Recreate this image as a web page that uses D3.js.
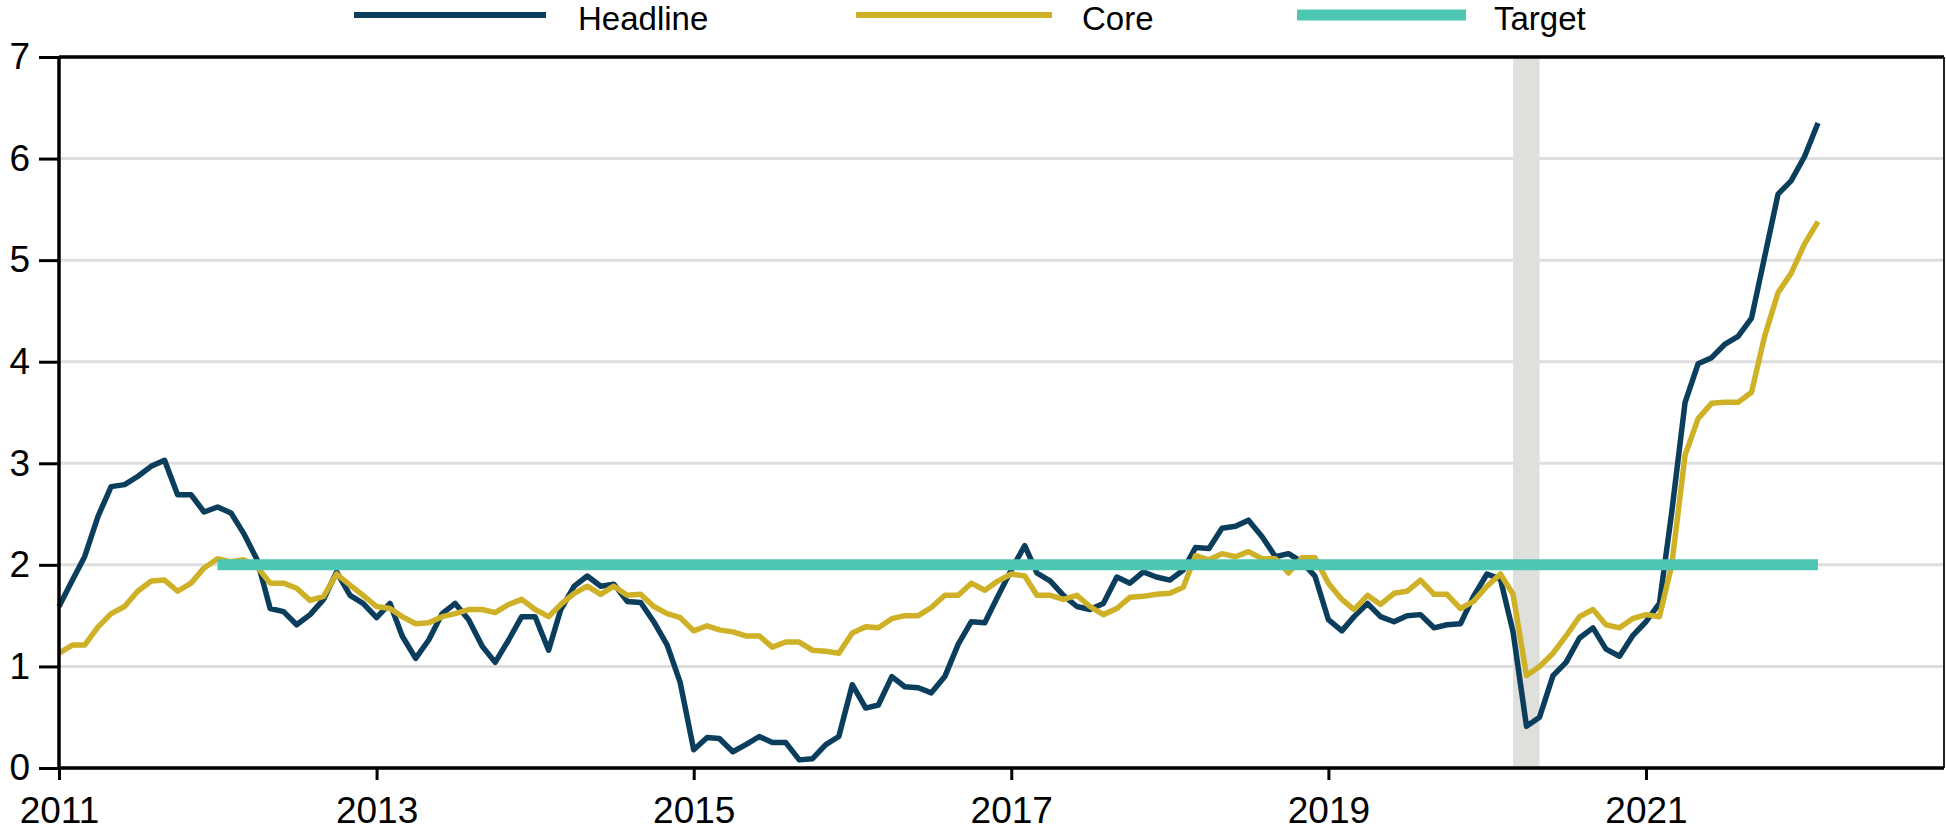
<!DOCTYPE html>
<html lang="en">
<head>
    <meta charset="UTF-8">
    <title>Inflation</title>
    <script type="text/javascript" src="https://cdn.jsdelivr.net/npm/d3@7"></script>
    <style>
        body { margin: 0; background: #fff; }
        svg text { font-family: "Liberation Sans", Arial, sans-serif; fill: #000; }
    </style>
</head>
<body>
<svg id="chart" width="1946" height="832"></svg>
<script>
    // monthly y/y %, Jan 2011 .. Feb 2022
    var firstMonth = "2011-01-01";
    var headline = [
        1.59, 1.85, 2.08, 2.48, 2.77, 2.79, 2.87, 2.97, 3.03, 2.69, 2.69, 2.52,
        2.57, 2.51, 2.31, 2.05, 1.57, 1.54, 1.41, 1.51, 1.66, 1.93, 1.70, 1.62,
        1.48, 1.62, 1.30, 1.08, 1.26, 1.52, 1.62, 1.46, 1.20, 1.04, 1.26, 1.49,
        1.49, 1.16, 1.56, 1.79, 1.89, 1.79, 1.81, 1.64, 1.63, 1.44, 1.21, 0.84,
        0.18, 0.30, 0.29, 0.16, 0.23, 0.31, 0.25, 0.25, 0.08, 0.09, 0.23, 0.31,
        0.82, 0.59, 0.62, 0.90, 0.80, 0.79, 0.74, 0.90, 1.22, 1.44, 1.43, 1.69,
        1.95, 2.19, 1.92, 1.84, 1.70, 1.59, 1.56, 1.62, 1.88, 1.82, 1.93, 1.88,
        1.85, 1.95, 2.17, 2.16, 2.36, 2.38, 2.44, 2.28, 2.08, 2.11, 2.03, 1.89,
        1.46, 1.35, 1.49, 1.62, 1.49, 1.44, 1.50, 1.51, 1.38, 1.41, 1.42, 1.69,
        1.91, 1.86, 1.34, 0.41, 0.50, 0.91, 1.04, 1.28, 1.38, 1.17, 1.10, 1.30,
        1.44, 1.62, 2.51, 3.60, 3.98, 4.04, 4.17, 4.25, 4.43, 5.03, 5.65, 5.78,
        6.02, 6.35
    ];
    var core = [
        1.13, 1.21, 1.21, 1.39, 1.52, 1.59, 1.74, 1.84, 1.85, 1.74, 1.82, 1.97,
        2.06, 2.03, 2.05, 1.98, 1.82, 1.82, 1.77, 1.65, 1.69, 1.91, 1.80, 1.70,
        1.59, 1.57, 1.49, 1.42, 1.43, 1.49, 1.52, 1.56, 1.56, 1.53, 1.61, 1.66,
        1.56, 1.49, 1.61, 1.72, 1.79, 1.71, 1.79, 1.70, 1.71, 1.59, 1.52, 1.48,
        1.35, 1.40, 1.36, 1.34, 1.30, 1.30, 1.19, 1.24, 1.24, 1.16, 1.15, 1.13,
        1.33, 1.39, 1.38, 1.47, 1.50, 1.50, 1.58, 1.70, 1.70, 1.82, 1.75, 1.84,
        1.91, 1.89, 1.70, 1.70, 1.66, 1.70, 1.59, 1.51, 1.57, 1.68, 1.69, 1.71,
        1.72, 1.78, 2.09, 2.05, 2.11, 2.08, 2.13, 2.06, 2.06, 1.92, 2.07, 2.07,
        1.82, 1.66, 1.56, 1.70, 1.61, 1.72, 1.74, 1.85, 1.71, 1.71, 1.57, 1.64,
        1.79, 1.91, 1.71, 0.91, 1.00, 1.13, 1.30, 1.49, 1.56, 1.41, 1.38, 1.47,
        1.51, 1.49, 1.99, 3.08, 3.44, 3.59, 3.60, 3.60, 3.70, 4.25, 4.68, 4.87,
        5.16, 5.38
    ];
    var targetValue = 2;
    var targetSpan = ["2012-01-01", "2022-02-01"];
    var recession = ["2020-03-01", "2020-05-01"];
    var xTickYears = [2011, 2013, 2015, 2017, 2019, 2021];
    var yTicks = [0, 1, 2, 3, 4, 5, 6, 7];
    var legendNames = ["Headline", "Core", "Target"];

    var colors = {Headline: "#0b3e5d", Core: "#cfb127", Target: "#4dc6b2"};

    function draw() {
        var svg = d3.select("#chart");
        var pLeft = 59, pRight = 1944, pTop = 57, pBottom = 768;
        var parse = d3.timeParse("%Y-%m-%d");

        var x = d3.scaleTime()
            .domain([parse(firstMonth), parse("2022-11-18")])
            .range([pLeft, pRight]);
        var y = d3.scaleLinear().domain([0, 7]).range([pBottom, pTop]);

        var months = headline.map(function(d, i) { return d3.timeMonth.offset(parse(firstMonth), i); });

        // gridlines
        svg.append("g").selectAll("line").data(yTicks).enter().append("line")
            .attr("x1", pLeft).attr("x2", pRight)
            .attr("y1", function(d) { return y(d); }).attr("y2", function(d) { return y(d); })
            .attr("stroke", "#dedede").attr("stroke-width", 3);

        // recession shading
        svg.append("rect")
            .attr("x", x(parse(recession[0])))
            .attr("width", x(parse(recession[1])) - x(parse(recession[0])))
            .attr("y", pTop).attr("height", pBottom - pTop)
            .attr("fill", "#dfdfdb");

        var line = d3.line()
            .x(function(d, i) { return x(months[i]); })
            .y(function(d) { return y(d); });

        svg.append("path").datum(headline)
            .attr("d", line).attr("fill", "none")
            .attr("stroke", colors.Headline).attr("stroke-width", 5.5).attr("stroke-linejoin", "round");
        svg.append("path").datum(core)
            .attr("d", line).attr("fill", "none")
            .attr("stroke", colors.Core).attr("stroke-width", 5.5).attr("stroke-linejoin", "round");

        svg.append("line")
            .attr("x1", x(parse(targetSpan[0]))).attr("x2", x(parse(targetSpan[1])))
            .attr("y1", y(targetValue)).attr("y2", y(targetValue))
            .attr("stroke", colors.Target).attr("stroke-width", 11);

        // frame
        svg.append("line").attr("x1", pLeft).attr("x2", pRight).attr("y1", pTop).attr("y2", pTop)
            .attr("stroke", "#000").attr("stroke-width", 3.5);
        svg.append("line").attr("x1", pRight).attr("x2", pRight).attr("y1", pTop).attr("y2", pBottom)
            .attr("stroke", "#222").attr("stroke-width", 2);

        // axes
        var yAxis = svg.append("g").attr("transform", "translate(" + pLeft + ",0)")
            .call(d3.axisLeft(y).tickValues(yTicks).tickSize(20).tickPadding(9).tickFormat(d3.format("d")));
        var xAxis = svg.append("g").attr("transform", "translate(0," + pBottom + ")")
            .call(d3.axisBottom(x)
                .tickValues(xTickYears.map(function(yr) { return new Date(yr, 0, 1); }))
                .tickSize(12).tickPadding(17).tickFormat(d3.timeFormat("%Y")));
        [yAxis, xAxis].forEach(function(g) {
            g.select(".domain").attr("stroke", "#000").attr("stroke-width", 3.5);
            g.selectAll(".tick line").attr("stroke", "#000").attr("stroke-width", 3);
            g.selectAll(".tick text").style("font-size", "37px");
        });
        yAxis.select(".domain").attr("d", "M0," + pBottom + "V" + pTop);
        xAxis.select(".domain").attr("d", "M" + pLeft + ",0H" + pRight);

        // legend
        var legendX = [[354, 546, 578], [856, 1052, 1082], [1297, 1466, 1494]];
        var legend = svg.append("g").selectAll("g").data(legendNames).enter().append("g");
        legend.append("line")
            .attr("x1", function(d, i) { return legendX[i][0]; })
            .attr("x2", function(d, i) { return legendX[i][1]; })
            .attr("y1", 15).attr("y2", 15)
            .attr("stroke", function(d) { return colors[d]; })
            .attr("stroke-width", function(d) { return d === "Target" ? 11 : 6; });
        legend.append("text")
            .attr("x", function(d, i) { return legendX[i][2]; })
            .attr("y", 30)
            .style("font-size", "33px")
            .text(function(d) { return d; });
    }
    draw();
</script>
</body>
</html>
